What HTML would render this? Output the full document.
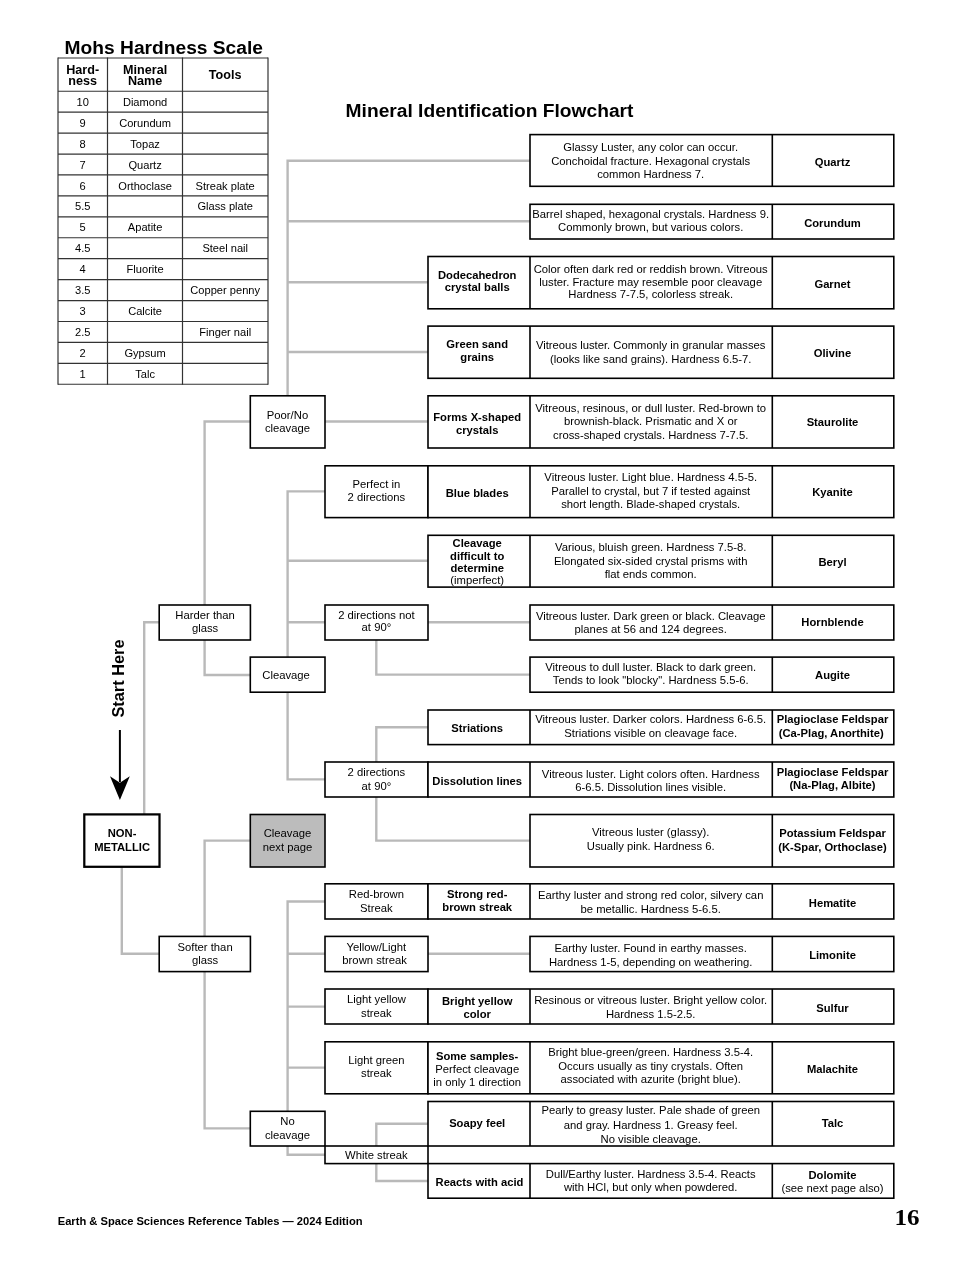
<!DOCTYPE html>
<html lang="en"><head><meta charset="utf-8"><title>Mineral Identification Flowchart</title>
<style>
html,body{margin:0;padding:0;background:#fff}
#pg{position:relative;width:979px;height:1266px;overflow:hidden;background:#fff}
#pg svg{position:absolute;left:0;top:0;will-change:transform;font-family:"Liberation Sans",Arial,Helvetica,sans-serif;font-size:11.27px;fill:#000}
text{text-anchor:middle;stroke:none;white-space:pre}
.b{font-weight:bold;font-size:11.22px}
.s{text-anchor:start}
#tbl text{font-size:11.1px}
#thd text{font-size:12.6px;font-weight:bold}
.ttl{font-size:19.2px;font-weight:bold}
</style></head><body>
<div id="pg">
<svg width="979" height="1266" viewBox="0 0 979 1266">
<g fill="none" stroke="#b9b9b9" stroke-width="2.4">
<polyline points="287.6,395.8 287.6,160.7 530,160.7"/>
<polyline points="287.6,221.2 530,221.2"/>
<polyline points="287.6,282.3 428,282.3"/>
<polyline points="287.6,352 428,352"/>
<polyline points="325,421.5 428,421.5"/>
<polyline points="204.6,605 204.6,421.5 250.3,421.5"/>
<polyline points="204.6,640 204.6,675 250.3,675"/>
<polyline points="287.6,657.1 287.6,491.4 325,491.4"/>
<polyline points="287.6,560.8 428,560.8"/>
<polyline points="287.6,622.2 325,622.2"/>
<polyline points="428,622.2 530,622.2"/>
<polyline points="376.3,640 376.3,674.6 530,674.6"/>
<polyline points="287.6,692.2 287.6,779.4 325,779.4"/>
<polyline points="376.3,762 376.3,727.2 428,727.2"/>
<polyline points="376.3,797 376.3,840.6 530,840.6"/>
<polyline points="144.2,814.4 144.2,622.2 159.2,622.2"/>
<polyline points="121.8,866.8 121.8,953.8 159.2,953.8"/>
<polyline points="204.6,936.4 204.6,840.6 250.3,840.6"/>
<polyline points="204.6,971.6 204.6,1128.4 250.3,1128.4"/>
<polyline points="287.6,1111.3 287.6,901.5 325,901.5"/>
<polyline points="287.6,953.8 325,953.8"/>
<polyline points="428,953.8 530,953.8"/>
<polyline points="287.6,1006.6 325,1006.6"/>
<polyline points="287.6,1067.6 325,1067.6"/>
<polyline points="287.6,1146 287.6,1154.7 325,1154.7"/>
<polyline points="376.3,1146 376.3,1123.8 428,1123.8"/>
<polyline points="376.3,1163.6 376.3,1181 428,1181"/>
</g>
<g fill="none" stroke="#333" stroke-width="1.2">
<line x1="58" y1="57.4" x2="58" y2="384.87"/>
<line x1="107.5" y1="57.4" x2="107.5" y2="384.87"/>
<line x1="182.5" y1="57.4" x2="182.5" y2="384.87"/>
<line x1="268" y1="57.4" x2="268" y2="384.87"/>
<line x1="58" y1="58" x2="268" y2="58"/>
<line x1="58" y1="91.25" x2="268" y2="91.25"/>
<line x1="58" y1="112.18" x2="268" y2="112.18"/>
<line x1="58" y1="133.11" x2="268" y2="133.11"/>
<line x1="58" y1="154.04" x2="268" y2="154.04"/>
<line x1="58" y1="174.97" x2="268" y2="174.97"/>
<line x1="58" y1="195.9" x2="268" y2="195.9"/>
<line x1="58" y1="216.83" x2="268" y2="216.83"/>
<line x1="58" y1="237.76" x2="268" y2="237.76"/>
<line x1="58" y1="258.69" x2="268" y2="258.69"/>
<line x1="58" y1="279.62" x2="268" y2="279.62"/>
<line x1="58" y1="300.55" x2="268" y2="300.55"/>
<line x1="58" y1="321.48" x2="268" y2="321.48"/>
<line x1="58" y1="342.41" x2="268" y2="342.41"/>
<line x1="58" y1="363.34" x2="268" y2="363.34"/>
<line x1="58" y1="384.27" x2="268" y2="384.27"/>
</g>
<g fill="#fff" stroke="#000" stroke-width="1.6">
<rect x="250.3" y="395.8" width="74.7" height="52.2"/>
<rect x="325" y="465.8" width="103" height="51.8"/>
<rect x="325" y="605" width="103" height="35"/>
<rect x="159.2" y="605" width="91.2" height="35"/>
<rect x="250.3" y="657.1" width="74.7" height="35.1"/>
<rect x="325" y="762" width="103" height="35"/>
<rect x="250.3" y="814.5" width="74.7" height="52.5" fill="#bcbcbc"/>
<rect x="325" y="883.8" width="103" height="35.2"/>
<rect x="325" y="936.4" width="103" height="35.2"/>
<rect x="159.2" y="936.4" width="91.2" height="35.2"/>
<rect x="325" y="989" width="103" height="35"/>
<rect x="325" y="1041.8" width="103" height="52"/>
<rect x="250.3" y="1111.3" width="74.7" height="34.7"/>
<rect x="325" y="1146" width="103" height="17.6"/>
<rect x="530" y="134.6" width="363.8" height="51.7"/>
<path d="M772.3 134.6V186.3"/>
<rect x="530" y="204.3" width="363.8" height="34.7"/>
<path d="M772.3 204.3V239"/>
<rect x="428" y="256.5" width="465.8" height="52.3"/>
<path d="M530 256.5V308.8M772.3 256.5V308.8"/>
<rect x="428" y="326.1" width="465.8" height="52.2"/>
<path d="M530 326.1V378.3M772.3 326.1V378.3"/>
<rect x="428" y="395.8" width="465.8" height="52.2"/>
<path d="M530 395.8V448M772.3 395.8V448"/>
<rect x="428" y="465.8" width="465.8" height="51.8"/>
<path d="M530 465.8V517.6M772.3 465.8V517.6"/>
<rect x="428" y="535.3" width="465.8" height="51.8"/>
<path d="M530 535.3V587.1M772.3 535.3V587.1"/>
<rect x="530" y="605" width="363.8" height="35"/>
<path d="M772.3 605V640"/>
<rect x="530" y="657.1" width="363.8" height="35.1"/>
<path d="M772.3 657.1V692.2"/>
<rect x="428" y="710" width="465.8" height="34.6"/>
<path d="M530 710V744.6M772.3 710V744.6"/>
<rect x="428" y="762" width="465.8" height="35"/>
<path d="M530 762V797M772.3 762V797"/>
<rect x="530" y="814.5" width="363.8" height="52.5"/>
<path d="M772.3 814.5V867"/>
<rect x="428" y="883.8" width="465.8" height="35.2"/>
<path d="M530 883.8V919M772.3 883.8V919"/>
<rect x="530" y="936.4" width="363.8" height="35.2"/>
<path d="M772.3 936.4V971.6"/>
<rect x="428" y="989" width="465.8" height="35"/>
<path d="M530 989V1024M772.3 989V1024"/>
<rect x="428" y="1041.8" width="465.8" height="52"/>
<path d="M530 1041.8V1093.8M772.3 1041.8V1093.8"/>
<rect x="428" y="1101.5" width="465.8" height="44.5"/>
<path d="M530 1101.5V1146M772.3 1101.5V1146"/>
<rect x="428" y="1163.6" width="465.8" height="34.6"/>
<path d="M530 1163.6V1198.2M772.3 1163.6V1198.2"/>
</g>
<rect x="84.3" y="814.4" width="75.2" height="52.4" fill="#fff" stroke="#000" stroke-width="2.25"/>
<path d="M119.9 730V782" stroke="#000" stroke-width="2" fill="none"/>
<path d="M119.9 800L110 776.3L119.9 782.8L129.8 776.3Z" fill="#000"/>
<text class="ttl s" x="64.6" y="53.8">Mohs Hardness Scale</text>
<text class="ttl s" x="345.6" y="117">Mineral Identification Flowchart</text>
<text class="b s" style="font-size:16.35px" transform="translate(123.9 717.6) rotate(-90)">Start Here</text>
<g id="thd">
<text x="82.7" y="74.1">Hard-</text><text x="82.7" y="84.9">ness</text>
<text x="145.1" y="74.1">Mineral</text><text x="145.1" y="84.9">Name</text>
<text x="225.2" y="79.2">Tools</text>
</g>
<g id="tbl">
<text x="82.7" y="105.8">10</text>
<text x="145.1" y="105.8">Diamond</text>
<text x="82.7" y="126.73">9</text>
<text x="145.1" y="126.73">Corundum</text>
<text x="82.7" y="147.66">8</text>
<text x="145.1" y="147.66">Topaz</text>
<text x="82.7" y="168.59">7</text>
<text x="145.1" y="168.59">Quartz</text>
<text x="82.7" y="189.52">6</text>
<text x="145.1" y="189.52">Orthoclase</text>
<text x="225.2" y="189.52">Streak plate</text>
<text x="82.7" y="210.45">5.5</text>
<text x="225.2" y="210.45">Glass plate</text>
<text x="82.7" y="231.38">5</text>
<text x="145.1" y="231.38">Apatite</text>
<text x="82.7" y="252.31">4.5</text>
<text x="225.2" y="252.31">Steel nail</text>
<text x="82.7" y="273.24">4</text>
<text x="145.1" y="273.24">Fluorite</text>
<text x="82.7" y="294.17">3.5</text>
<text x="225.2" y="294.17">Copper penny</text>
<text x="82.7" y="315.1">3</text>
<text x="145.1" y="315.1">Calcite</text>
<text x="82.7" y="336.03">2.5</text>
<text x="225.2" y="336.03">Finger nail</text>
<text x="82.7" y="356.96">2</text>
<text x="145.1" y="356.96">Gypsum</text>
<text x="82.7" y="377.89">1</text>
<text x="145.1" y="377.89">Talc</text>
</g>
<g id="flow">
<text x="287.5" y="419.25">Poor/No</text>
<text x="287.5" y="432">cleavage</text>
<text x="376.4" y="488">Perfect in</text>
<text x="376.4" y="500.75">2 directions</text>
<text x="376.4" y="618.75">2 directions not</text>
<text x="376.4" y="631.25">at 90°</text>
<text x="205.1" y="619.25">Harder than</text>
<text x="205.1" y="632">glass</text>
<text x="286.1" y="679.25">Cleavage</text>
<text x="376.4" y="775.75">2 directions</text>
<text x="376.4" y="789.5">at 90°</text>
<text x="287.5" y="837">Cleavage</text>
<text x="287.5" y="850.5">next page</text>
<text x="376.4" y="898">Red-brown</text>
<text x="376.4" y="911.75">Streak</text>
<text x="376.4" y="950.75">Yellow/Light</text>
<text x="374.6" y="963.75">brown streak</text>
<text x="205.1" y="951.25">Softer than</text>
<text x="205.1" y="964.25">glass</text>
<text x="376.4" y="1003.25">Light yellow</text>
<text x="376.4" y="1016.75">streak</text>
<text x="376.4" y="1063.75">Light green</text>
<text x="376.4" y="1076.75">streak</text>
<text x="287.5" y="1125">No</text>
<text x="287.5" y="1138.75">cleavage</text>
<text x="376.4" y="1158.75">White streak</text>
<text x="650.7" y="151.25">Glassy Luster, any color can occur.</text>
<text x="650.7" y="165">Conchoidal fracture. Hexagonal crystals</text>
<text x="650.7" y="178.25">common Hardness 7.</text>
<text x="832.5" y="165.75" class="b">Quartz</text>
<text x="650.7" y="217.5">Barrel shaped, hexagonal crystals. Hardness 9.</text>
<text x="650.7" y="230.5">Commonly brown, but various colors.</text>
<text x="832.5" y="226.75" class="b">Corundum</text>
<text x="477.2" y="278.75" class="b">Dodecahedron</text>
<text x="477.2" y="291.25" class="b">crystal balls</text>
<text x="650.7" y="272.5">Color often dark red or reddish brown. Vitreous</text>
<text x="650.7" y="285.5">luster. Fracture may resemble poor cleavage</text>
<text x="650.7" y="298.25">Hardness 7-7.5, colorless streak.</text>
<text x="832.5" y="287.5" class="b">Garnet</text>
<text x="477.2" y="347.5" class="b">Green sand</text>
<text x="477.2" y="361.25" class="b">grains</text>
<text x="650.7" y="349.25">Vitreous luster. Commonly in granular masses</text>
<text x="650.7" y="363">(looks like sand grains). Hardness 6.5-7.</text>
<text x="832.5" y="356.75" class="b">Olivine</text>
<text x="477.2" y="420.75" class="b">Forms X-shaped</text>
<text x="477.2" y="433.75" class="b">crystals</text>
<text x="650.7" y="412">Vitreous, resinous, or dull luster. Red-brown to</text>
<text x="650.7" y="425">brownish-black. Prismatic and X or</text>
<text x="650.7" y="438.75">cross-shaped crystals. Hardness 7-7.5.</text>
<text x="832.5" y="426.25" class="b">Staurolite</text>
<text x="477.2" y="496.75" class="b">Blue blades</text>
<text x="650.7" y="480.75">Vitreous luster. Light blue. Hardness 4.5-5.</text>
<text x="650.7" y="494.5">Parallel to crystal, but 7 if tested against</text>
<text x="650.7" y="507.5">short length. Blade-shaped crystals.</text>
<text x="832.5" y="496.25" class="b">Kyanite</text>
<text x="477.2" y="546.75" class="b">Cleavage</text>
<text x="477.2" y="559.5" class="b">difficult to</text>
<text x="477.2" y="571.75" class="b">determine</text>
<text x="477.2" y="584.25">(imperfect)</text>
<text x="650.7" y="550.75">Various, bluish green. Hardness 7.5-8.</text>
<text x="650.7" y="564.5">Elongated six-sided crystal prisms with</text>
<text x="650.7" y="577.5">flat ends common.</text>
<text x="832.5" y="565.5" class="b">Beryl</text>
<text x="650.7" y="619.5">Vitreous luster. Dark green or black. Cleavage</text>
<text x="650.7" y="632.5">planes at 56 and 124 degrees.</text>
<text x="832.5" y="626.25" class="b">Hornblende</text>
<text x="650.7" y="670.5">Vitreous to dull luster. Black to dark green.</text>
<text x="650.7" y="684.25">Tends to look &quot;blocky&quot;. Hardness 5.5-6.</text>
<text x="832.5" y="679.25" class="b">Augite</text>
<text x="477.2" y="731.75" class="b">Striations</text>
<text x="650.7" y="723">Vitreous luster. Darker colors. Hardness 6-6.5.</text>
<text x="650.7" y="736.75">Striations visible on cleavage face.</text>
<text x="832.5" y="722.8" class="b">Plagioclase Feldspar</text>
<text x="831.2" y="737.1" class="b">(Ca-Plag, Anorthite)</text>
<text x="477.2" y="785" class="b">Dissolution lines</text>
<text x="650.7" y="778">Vitreous luster. Light colors often. Hardness</text>
<text x="650.7" y="790.75">6-6.5. Dissolution lines visible.</text>
<text x="832.5" y="775.9" class="b">Plagioclase Feldspar</text>
<text x="832.5" y="789.1" class="b">(Na-Plag, Albite)</text>
<text x="650.7" y="835.75">Vitreous luster (glassy).</text>
<text x="650.7" y="849.5">Usually pink. Hardness 6.</text>
<text x="832.5" y="836.9" class="b">Potassium Feldspar</text>
<text x="832.5" y="851.1" class="b">(K-Spar, Orthoclase)</text>
<text x="477.2" y="898" class="b">Strong red-</text>
<text x="477.2" y="910.75" class="b">brown streak</text>
<text x="650.7" y="899.25">Earthy luster and strong red color, silvery can</text>
<text x="650.7" y="912.5">be metallic. Hardness 5-6.5.</text>
<text x="832.5" y="906.8" class="b">Hematite</text>
<text x="650.7" y="952">Earthy luster. Found in earthy masses.</text>
<text x="650.7" y="965.5">Hardness 1-5, depending on weathering.</text>
<text x="832.5" y="958.75" class="b">Limonite</text>
<text x="477.2" y="1004.5" class="b">Bright yellow</text>
<text x="477.2" y="1017.5" class="b">color</text>
<text x="650.7" y="1003.75">Resinous or vitreous luster. Bright yellow color.</text>
<text x="650.7" y="1017.5">Hardness 1.5-2.5.</text>
<text x="832.5" y="1011.75" class="b">Sulfur</text>
<text x="477.2" y="1059.5" class="b">Some samples-</text>
<text x="477.2" y="1072.5">Perfect cleavage</text>
<text x="477.2" y="1085.75">in only 1 direction</text>
<text x="650.7" y="1055.75">Bright blue-green/green. Hardness 3.5-4.</text>
<text x="650.7" y="1069.5">Occurs usually as tiny crystals. Often</text>
<text x="650.7" y="1082.5">associated with azurite (bright blue).</text>
<text x="832.5" y="1072.9" class="b">Malachite</text>
<text x="477.2" y="1126.7" class="b">Soapy feel</text>
<text x="650.7" y="1113.75">Pearly to greasy luster. Pale shade of green</text>
<text x="650.7" y="1128.75">and gray. Hardness 1. Greasy feel.</text>
<text x="650.7" y="1142.5">No visible cleavage.</text>
<text x="832.5" y="1126.75" class="b">Talc</text>
<text x="479.5" y="1185.5" class="b">Reacts with acid</text>
<text x="650.7" y="1177.5">Dull/Earthy luster. Hardness 3.5-4. Reacts</text>
<text x="650.7" y="1190.5">with HCl, but only when powdered.</text>
<text x="832.5" y="1178.75" class="b">Dolomite</text>
<text x="832.5" y="1191.75">(see next page also)</text>
<text x="122.1" y="836.5" class="b">NON-</text>
<text x="122.1" y="850.6" class="b">METALLIC</text>
</g>
<text class="b s" style="font-size:11.16px" x="57.7" y="1225">Earth &amp; Space Sciences Reference Tables — 2024 Edition</text>
<text class="b" style="font-family:'Liberation Serif','Times New Roman',serif;font-size:22.8px" transform="translate(906.9 1225.2) scale(1.1 1)">16</text>
</svg>
</div>
</body></html>
